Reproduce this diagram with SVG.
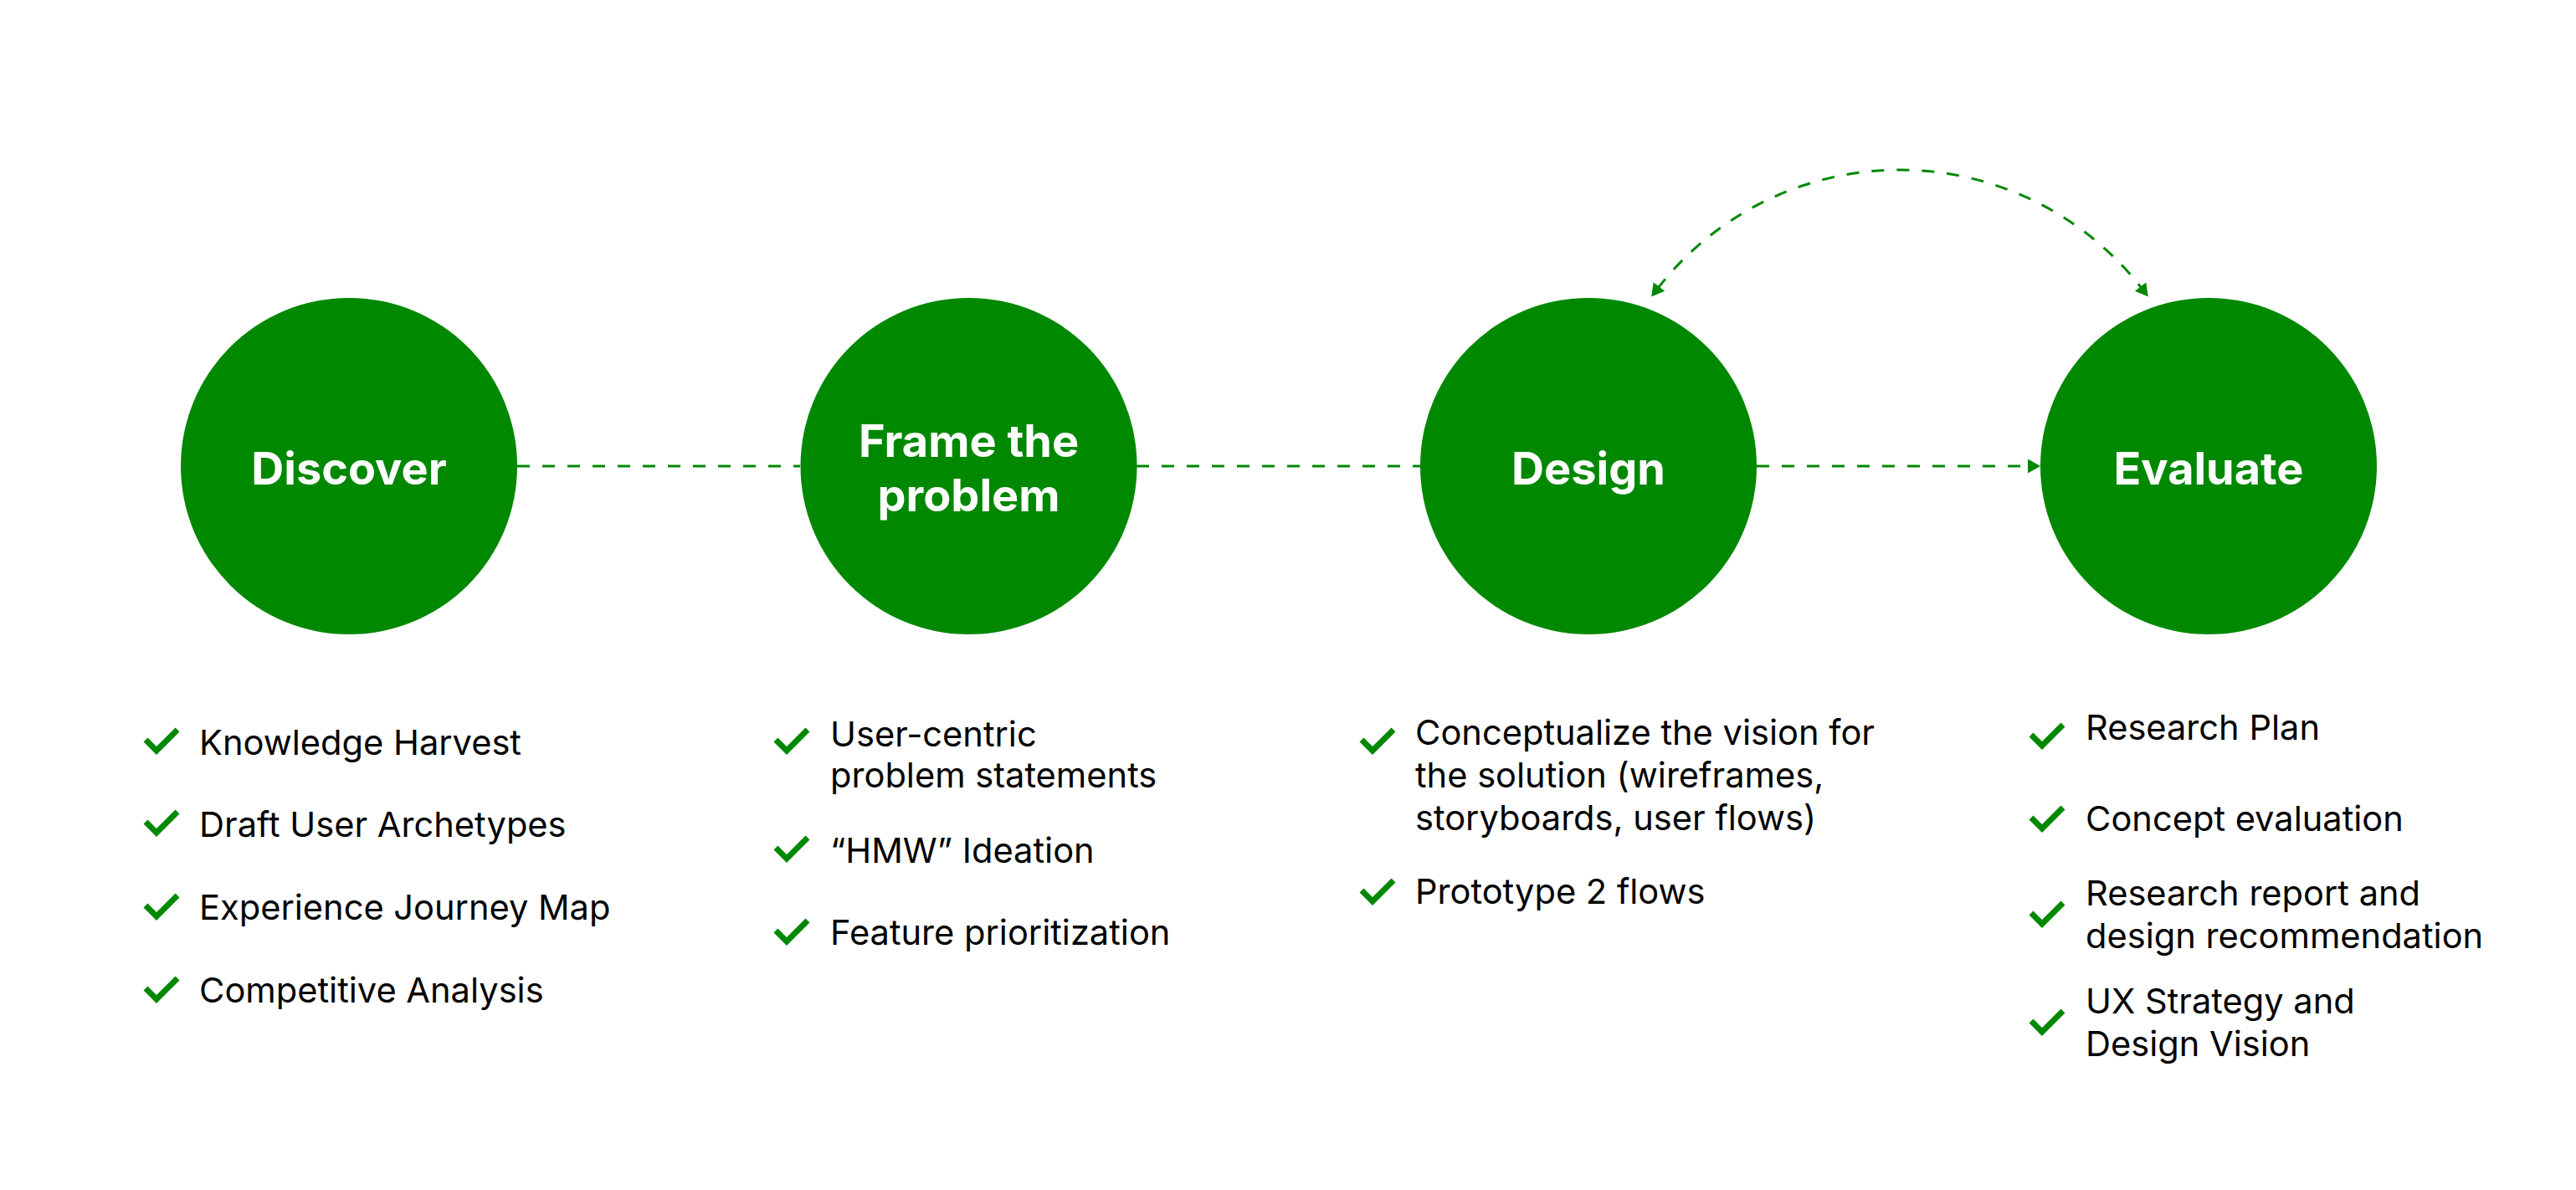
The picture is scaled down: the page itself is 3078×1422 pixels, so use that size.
<svg xmlns="http://www.w3.org/2000/svg" width="3078" height="1422" viewBox="0 0 3078 1422">
<style>
.node{fill:#008800}
.title{font-family:Inter,"Liberation Sans",sans-serif;font-weight:700;font-size:54px;fill:#ffffff;text-anchor:middle}
.item{font-family:Inter,"Liberation Sans",sans-serif;font-size:41.6px;fill:#000000}
.conn{fill:none;stroke:#008800;stroke-width:3;stroke-dasharray:15 15}
</style>
<defs>
<marker id="arr" markerUnits="userSpaceOnUse" markerWidth="16" markerHeight="18" refX="3" refY="8.5" orient="auto-start-reverse">
<path d="M0,0 L15,8.5 L0,17 Z" fill="#008800"/>
</marker>
<path id="chk" d="M3,14 L16,27 L41,2" fill="none" stroke="#008800" stroke-width="7"/>
</defs>
<rect width="3078" height="1422" fill="#ffffff"/>
<g id="connectors">
<line class="conn" x1="618" y1="557" x2="956" y2="557"/>
<line class="conn" x1="1358" y1="557" x2="1697" y2="557"/>
<line class="conn" x1="2099" y1="557" x2="2426" y2="557" marker-end="url(#arr)"/>
<path class="conn" d="M1980.6,344.9 A366,366 0 0 1 2559.4,344.9" marker-start="url(#arr)" marker-end="url(#arr)"/>
</g>
<g id="discover">
<circle class="node" cx="417" cy="557" r="201"/>
<text class="title" x="417" y="579">Discover</text>
<use href="#chk" x="171" y="870"/>
<text class="item" x="238" y="902">Knowledge Harvest</text>
<use href="#chk" x="171" y="968"/>
<text class="item" x="238" y="1000">Draft User Archetypes</text>
<use href="#chk" x="171" y="1068"/>
<text class="item" x="238" y="1099">Experience Journey Map</text>
<use href="#chk" x="171" y="1167"/>
<text class="item" x="238" y="1198">Competitive Analysis</text>
</g>
<g id="frame">
<circle class="node" cx="1157.5" cy="557" r="201"/>
<text class="title" x="1157.5" y="546">Frame the</text>
<text class="title" x="1157.5" y="611">problem</text>
<use href="#chk" x="924" y="870"/>
<text class="item" x="992" y="892">User-centric</text>
<text class="item" x="992" y="941">problem statements</text>
<use href="#chk" x="924" y="999"/>
<text class="item" x="992" y="1031">“HMW” Ideation</text>
<use href="#chk" x="924" y="1098"/>
<text class="item" x="992" y="1129">Feature prioritization</text>
</g>
<g id="design">
<circle class="node" cx="1898" cy="557" r="201"/>
<text class="title" x="1898" y="579">Design</text>
<use href="#chk" x="1624" y="870"/>
<text class="item" x="1691" y="890">Conceptualize the vision for</text>
<text class="item" x="1691" y="941">the solution (wireframes,</text>
<text class="item" x="1691" y="992">storyboards, user flows)</text>
<use href="#chk" x="1624" y="1050"/>
<text class="item" x="1691" y="1080">Prototype 2 flows</text>
</g>
<g id="evaluate">
<circle class="node" cx="2639" cy="557" r="201"/>
<text class="title" x="2639" y="579">Evaluate</text>
<use href="#chk" x="2424" y="864"/>
<text class="item" x="2492" y="884">Research Plan</text>
<use href="#chk" x="2424" y="963"/>
<text class="item" x="2492" y="993">Concept evaluation</text>
<use href="#chk" x="2424" y="1077"/>
<text class="item" x="2492" y="1082">Research report and</text>
<text class="item" x="2492" y="1133">design recommendation</text>
<use href="#chk" x="2424" y="1206"/>
<text class="item" x="2492" y="1211">UX Strategy and</text>
<text class="item" x="2492" y="1262">Design Vision</text>
</g>
</svg>
